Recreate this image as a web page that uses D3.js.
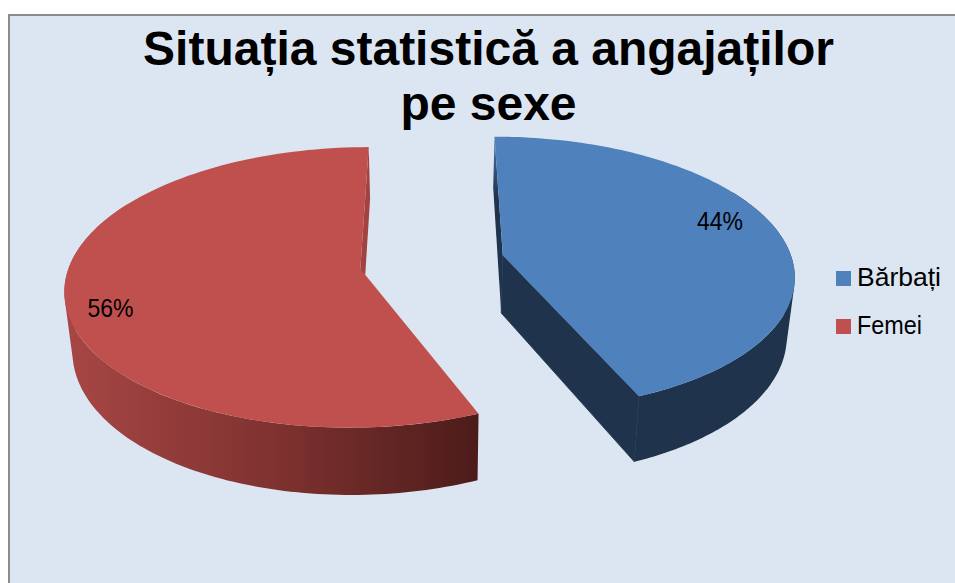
<!DOCTYPE html>
<html>
<head>
<meta charset="utf-8">
<script src="https://cdn.jsdelivr.net/npm/d3@7"></script>
<style>
html,body{margin:0;padding:0;background:#fff;}
svg{display:block;}
text{font-family:"Liberation Sans",Arial,sans-serif;fill:#000;}
</style>
</head>
<body>
<svg id="c" width="955" height="583"></svg>
<script>
const titleLines = ["Situația statistică a angajaților", "pe sexe"];
const categories = ["Bărbați", "Femei"];
const values = [43.7, 56.3];
const topColors = ["#4f81bd", "#c0504d"];

const W = 955, H = 583;
const svg = d3.select("#c");
const defs = svg.append("defs");

svg.append("rect").attr("x", 9).attr("y", 15).attr("width", W).attr("height", H)
  .attr("fill", "#dce6f2").attr("stroke", "#8c8c8c").attr("stroke-width", 2);

// perspective model of the exploded pie
const vx = 432, vy = 262, Rx = 290, Ry = 136, persp = 0.132, explode = 0.2505;
const depth = 58, shrink = 0.978;

const pie = d3.pie().sort(null).value(d => d).startAngle(0).endAngle(2 * Math.PI);
const arcs = pie(values);
const pct = d3.format(".0f");

function project(d, theta, r) {
  const mid = (d.startAngle + d.endAngle) / 2;
  const wx = explode * Math.sin(mid) + r * Math.sin(theta);
  const wz = explode * Math.cos(mid) + r * Math.cos(theta);
  const w = 1 + persp * wz;
  return { x: vx + Rx * wx / w, y: vy - Ry * wz / w, w };
}
function lower(p) {
  return { x: vx + (p.x - vx) * shrink, y: p.y + depth / p.w };
}
const line = d3.line().x(p => p.x).y(p => p.y);
function rim(d, a0, a1) {
  const n = 120;
  return d3.range(n + 1).map(i => project(d, a0 + (a1 - a0) * i / n, 1));
}
// outer wall as one path of same-wound quads, so the silhouette between the rims is filled
function wall(d, a0, a1) {
  const t = rim(d, a0, a1);
  return d3.pairs(t).map(([a, b]) => {
    const q = [a, b, lower(b), lower(a)];
    if (d3.polygonArea(q.map(p => [p.x, p.y])) < 0) q.reverse();
    return line(q) + "Z";
  }).join("");
}

// gradients
const gr = defs.append("linearGradient").attr("id", "redSide")
  .attr("gradientUnits", "userSpaceOnUse").attr("x1", 70).attr("x2", 478).attr("y1", 0).attr("y2", 0);
gr.append("stop").attr("offset", 0).attr("stop-color", "#a64644");
gr.append("stop").attr("offset", 0.5).attr("stop-color", "#7f3230");
gr.append("stop").attr("offset", 1).attr("stop-color", "#4c1c1a");
const gb = defs.append("linearGradient").attr("id", "blueCut")
  .attr("x1", 0).attr("x2", 0).attr("y1", 0).attr("y2", 1);
gb.append("stop").attr("offset", 0).attr("stop-color", "#4a78b0");
gb.append("stop").attr("offset", 0.35).attr("stop-color", "#1f334d");
gb.append("stop").attr("offset", 1).attr("stop-color", "#1f334d");

const g = svg.append("g");
const red = arcs[1], blue = arcs[0];
const rad = Math.PI / 180;

// red slice
{
  const o = project(red, red.endAngle, 1), c = project(red, 0, 0);
  g.append("path").attr("d", line([o, lower(o), lower(c), c]) + "Z").attr("fill", "#a24341");
  g.append("path").attr("d", wall(red, red.startAngle, 300 * rad)).attr("fill", "url(#redSide)");
  const top = [c].concat(rim(red, red.startAngle, red.endAngle));
  g.append("path").attr("d", line(top) + "Z").attr("fill", topColors[1]);
}
// blue slice
{
  const c = project(blue, 0, 0), o0 = project(blue, blue.startAngle, 1), o1 = project(blue, blue.endAngle, 1);
  g.append("path").attr("d", line([o0, lower(o0), lower(c), c]) + "Z").attr("fill", "url(#blueCut)");
  g.append("path").attr("d", line([c, lower(c), lower(o1), o1]) + "Z").attr("fill", "#1f334d")
    .attr("stroke", "#1f334d").attr("stroke-width", 0.8);
  g.append("path").attr("d", wall(blue, 60 * rad, blue.endAngle)).attr("fill", "#1f334d");
  const top = [c].concat(rim(blue, blue.startAngle, blue.endAngle));
  g.append("path").attr("d", line(top) + "Z").attr("fill", topColors[0]);
}

// percentage labels
arcs.forEach((d, i) => {
  const mid = (d.startAngle + d.endAngle) / 2;
  const p = project(d, mid - 7 * rad, i ? 0.86 : 0.83);
  svg.append("text").attr("x", p.x).attr("y", p.y + (i ? 10 : 9)).attr("text-anchor", "middle")
    .attr("font-size", 25).attr("textLength", 46).attr("lengthAdjust", "spacingAndGlyphs")
    .text(pct(d.data) + "%");
});

// title
titleLines.forEach((t, i) => {
  svg.append("text").attr("x", 488.5).attr("y", 65 + i * 55).attr("text-anchor", "middle")
    .attr("font-size", 48).attr("font-weight", "bold").text(t);
});

// legend
const legendLen = [84, 65];
categories.forEach((c, i) => {
  const y = 271 + i * 48;
  svg.append("rect").attr("x", 836).attr("y", y).attr("width", 15).attr("height", 15).attr("fill", topColors[i]);
  svg.append("text").attr("x", 857).attr("y", y + 15).attr("font-size", 25)
    .attr("textLength", legendLen[i]).attr("lengthAdjust", "spacingAndGlyphs").text(c);
});
</script>
</body>
</html>
